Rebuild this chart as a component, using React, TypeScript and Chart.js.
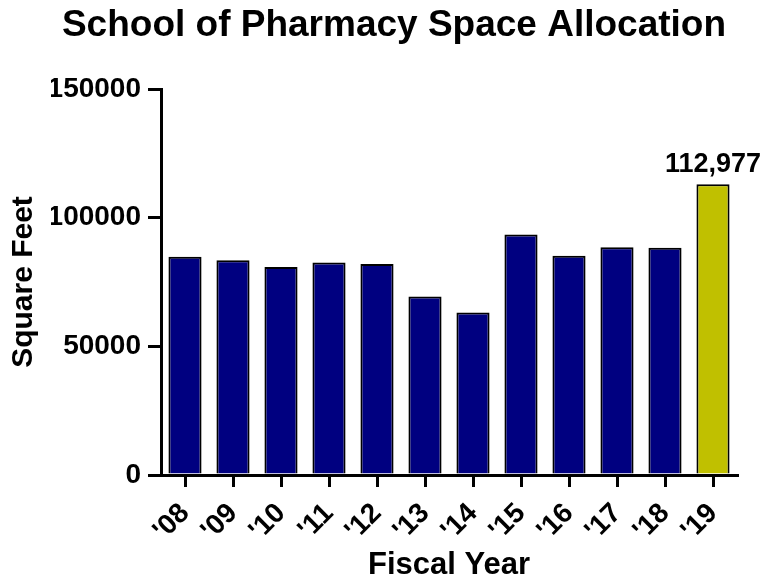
import React, { useEffect, useRef } from "react";
import { Chart, registerables } from "chart.js";

Chart.register(...registerables);

const categories = ["'08", "'09", "'10", "'11", "'12", "'13", "'14", "'15", "'16", "'17", "'18", "'19"];
const squareFeet = [84800, 83500, 80800, 82600, 82000, 69400, 63100, 93500, 85200, 88500, 88300, 112977];
const barColors = ["#000080", "#000080", "#000080", "#000080", "#000080", "#000080", "#000080", "#000080", "#000080", "#000080", "#000080", "#C0C000"];
const labelIndex = 11;
const labelText = "112,977";
const yTicks = [0, 50000, 100000, 150000];

const FONT = "'Liberation Sans', Arial, Helvetica, sans-serif";

const valueLabelPlugin = {
  id: "valueLabel",
  afterDatasetsDraw(chart: any) {
    const meta = chart.getDatasetMeta(0);
    const el = meta.data[labelIndex];
    if (!el) return;
    const ctx = chart.ctx;
    ctx.save();
    ctx.font = `bold 27px ${FONT}`;
    ctx.fillStyle = "#000";
    ctx.textAlign = "center";
    ctx.textBaseline = "alphabetic";
    ctx.fillText(labelText, el.x, el.y - 12);
    ctx.restore();
  },
};

export default function App() {
  const ref = useRef<HTMLCanvasElement | null>(null);
  useEffect(() => {
    if (!ref.current) return;
    const chart = new Chart(ref.current, {
      type: "bar",
      data: {
        labels: categories,
        datasets: [
          {
            data: squareFeet,
            backgroundColor: barColors,
            borderColor: "#000",
            borderWidth: 2,
            borderSkipped: "bottom",
            categoryPercentage: 1,
            barPercentage: 0.69,
          },
        ],
      },
      options: {
        responsive: false,
        animation: false,
        layout: { padding: { left: 51, right: 31, top: 0, bottom: 0 } },
        plugins: {
          legend: { display: false },
          tooltip: { enabled: false },
          title: {
            display: true,
            text: "School of Pharmacy Space Allocation",
            color: "#000",
            font: { family: FONT, size: 37, weight: "bold", lineHeight: 1.2 },
            padding: { top: 4, bottom: 40.6 },
          },
        },
        scales: {
          x: {
            offset: true,
            afterFit: (s: any) => {
              s.height = 109;
            },
            border: { display: true, color: "#000", width: 3 },
            grid: {
              offset: false,
              drawOnChartArea: false,
              drawTicks: true,
              tickLength: 12,
              tickWidth: 3,
              tickColor: "#000",
              color: "#000",
              lineWidth: 3,
            },
            ticks: {
              color: "#000",
              font: { family: FONT, size: 28, weight: "bold" },
              maxRotation: 45,
              minRotation: 45,
              padding: 10,
              autoSkip: false,
            },
            title: {
              display: true,
              text: "Fiscal Year",
              color: "#000",
              font: { family: FONT, size: 31, weight: "bold", lineHeight: 1.2 },
              padding: { top: 0, bottom: 0 },
            },
          },
          y: {
            min: 0,
            max: 150000,
            afterFit: (s: any) => {
              s.width = 110;
            },
            afterBuildTicks: (s: any) => {
              s.ticks = yTicks.map((v) => ({ value: v }));
            },
            border: { display: true, color: "#000", width: 3 },
            grid: {
              drawOnChartArea: false,
              drawTicks: true,
              tickLength: 13,
              tickWidth: 3,
              tickColor: "#000",
              color: "#000",
              lineWidth: 3,
            },
            ticks: {
              color: "#000",
              font: { family: FONT, size: 28, weight: "bold" },
              padding: 7,
              callback: (v: any) => String(v),
            },
            title: {
              display: true,
              text: "Square Feet",
              color: "#000",
              font: { family: FONT, size: 30, weight: "bold", lineHeight: 1.2 },
              padding: { top: -45, bottom: 0 },
            },
          },
        },
      },
      plugins: [valueLabelPlugin],
    });
    return () => chart.destroy();
  }, []);
  return (
    <div style={{ position: "fixed", left: 0, top: 0, width: 768, height: 584, background: "#fff" }}>
      <canvas ref={ref} width={768} height={584} style={{ display: "block", width: 768, height: 584 }} />
    </div>
  );
}
